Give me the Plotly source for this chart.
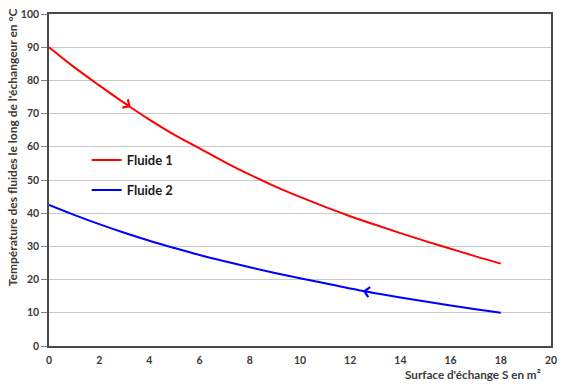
import numpy as np
import plotly.graph_objects as go

# Data
surface = [0, 1, 2, 3, 4, 5, 6, 7, 8, 9, 10, 11, 12, 13, 14, 15, 16, 17, 18]
fluide1 = [90, 84, 78.5, 73.2, 68.2, 63.6, 59.5, 55.4, 51.6, 48.1, 44.9, 41.9, 39.1, 36.5, 34.0, 31.6, 29.3, 27.0, 24.8]
fluide2 = [42.5, 39.5, 36.7, 34.1, 31.7, 29.5, 27.4, 25.5, 23.7, 22.0, 20.4, 18.9, 17.3, 15.9, 14.6, 13.4, 12.2, 11.1, 10.0]

series_names = ["Fluide 1", "Fluide 2"]
series_colors = ["#ff0000", "#0000ff"]

# Arrow positions (along the curves, direction of flow)
arrow1_tail, arrow1_head = 2.85, 3.25
arrow2_tail, arrow2_head = 13.0, 12.5

x_title = "Surface d'échange S en m²"
y_title = "Température des fluides le long de l'échangeur en °C"

FONT = "Lato"
TXT = "#3a3a3a"

fig = go.Figure()
for i, (name, ys) in enumerate(zip(series_names, [fluide1, fluide2])):
    fig.add_trace(go.Scatter(
        x=surface, y=ys, mode="lines", name=name,
        line=dict(color=series_colors[i], width=2, shape="spline"),
        legendgroup=f"g{i}",
    ))

def arrow(tail, head, ys, color):
    return dict(
        x=head, y=float(np.interp(head, surface, ys)),
        ax=tail, ay=float(np.interp(tail, surface, ys)),
        xref="x", yref="y", axref="x", ayref="y",
        text="", showarrow=True, arrowhead=4, arrowsize=1.3,
        arrowwidth=1.5, arrowcolor=color,
    )

annotations = [
    arrow(arrow1_tail, arrow1_head, fluide1, series_colors[0]),
    arrow(arrow2_tail, arrow2_head, fluide2, series_colors[1]),
    dict(text=x_title, xref="paper", yref="paper", x=0.984, y=-0.085,
         xanchor="right", yanchor="middle", showarrow=False,
         font=dict(family=FONT, size=11.7, color=TXT, weight="bold")),
    dict(text=y_title, xref="paper", yref="paper", x=-0.073, y=0.6,
         xanchor="center", yanchor="middle", showarrow=False, textangle=-90,
         font=dict(family=FONT, size=12, color=TXT, weight="bold")),
]

fig.update_layout(
    width=565, height=384,
    margin=dict(l=49, r=9, t=8, b=38),
    paper_bgcolor="white", plot_bgcolor="white",
    showlegend=True,
    legend=dict(x=0.075, y=0.605, xanchor="left", yanchor="top",
                bgcolor="rgba(0,0,0,0)", tracegroupgap=10, itemwidth=30,
                font=dict(family=FONT, size=13, color="#1a1a1a", weight="bold")),
    annotations=annotations,
    font=dict(family=FONT),
)
fig.update_xaxes(
    range=[0, 20], dtick=2, tick0=0, showgrid=False, zeroline=False,
    showline=True, linecolor="#4a4a4a", linewidth=1.5, mirror=True,
    ticks="", tickfont=dict(family=FONT, size=10.5, color=TXT, weight="bold"),
    ticklabelstandoff=4,
)
fig.update_yaxes(
    range=[0, 100], dtick=10, tick0=0, showgrid=True, gridcolor="#c8c8c8",
    gridwidth=1, zeroline=False,
    showline=True, linecolor="#4a4a4a", linewidth=1.5, mirror=True,
    ticks="outside", ticklen=6, tickcolor="#808080",
    tickfont=dict(family=FONT, size=10.5, color=TXT, weight="bold"),
)

fig.write_html("out.html")
